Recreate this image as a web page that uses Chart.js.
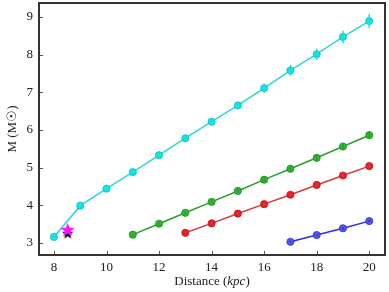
<!DOCTYPE html>
<html>
<head>
<meta charset="utf-8">
<script src="https://cdn.jsdelivr.net/npm/chart.js@4"></script>
<style>
  html, body { margin: 0; padding: 0; background: #fff; }
  #wrap { width: 389px; height: 292px; }
</style>
</head>
<body>
<div id="wrap"><canvas id="massChart"></canvas></div>
<script>
// data
const xTicks = [8, 10, 12, 14, 16, 18, 20];
const yTicks = [3, 4, 5, 6, 7, 8, 9];

const cyanDist = [8, 9, 10, 11, 12, 13, 14, 15, 16, 17, 18, 19, 20];
const cyanMass = [3.16, 3.99, 4.44, 4.88, 5.33, 5.78, 6.22, 6.65, 7.11, 7.58, 8.01, 8.47, 8.89];
const cyanErr  = [0.02, 0.03, 0.04, 0.05, 0.06, 0.07, 0.09, 0.10, 0.12, 0.14, 0.15, 0.16, 0.19];

const greenDist = [11, 12, 13, 14, 15, 16, 17, 18, 19, 20];
const greenMass = [3.22, 3.51, 3.80, 4.09, 4.38, 4.68, 4.97, 5.26, 5.56, 5.86];
const greenErr  = [0.02, 0.03, 0.03, 0.04, 0.05, 0.06, 0.07, 0.08, 0.09, 0.10];

const redDist = [13, 14, 15, 16, 17, 18, 19, 20];
const redMass = [3.27, 3.52, 3.78, 4.03, 4.28, 4.54, 4.79, 5.04];
const redErr  = [0.02, 0.02, 0.03, 0.03, 0.04, 0.05, 0.06, 0.07];

const blueDist = [17, 18, 19, 20];
const blueMass = [3.03, 3.21, 3.39, 3.58];
const blueErr  = [0.02, 0.02, 0.03, 0.03];

const starMagenta = [{ x: 8.52, y: 3.36 }];
const starBlack = [{ x: 8.52, y: 3.26 }];

const serif = "'Liberation Serif', 'DejaVu Serif', serif";

// filled five point star used as a point style
function makeStar(size, color) {
  const c = document.createElement('canvas');
  c.width = size; c.height = size;
  const g = c.getContext('2d');
  const cx = size / 2, cy = size / 2 + size * 0.05;
  const ro = size / 2, ri = ro * 0.42;
  g.beginPath();
  for (let i = 0; i < 10; i++) {
    const r = i % 2 === 0 ? ro : ri;
    const a = -Math.PI / 2 + i * Math.PI / 5;
    g.lineTo(cx + r * Math.cos(a), cy + r * Math.sin(a));
  }
  g.closePath();
  g.fillStyle = color;
  g.fill();
  return c;
}

function pairs(xs, ys) {
  return xs.map((x, i) => ({ x: x, y: ys[i] }));
}

function series(xs, ys, errs, line, fill, edge) {
  return {
    data: pairs(xs, ys),
    errors: errs,
    borderColor: line,
    borderWidth: 1.5,
    backgroundColor: fill,
    pointBackgroundColor: fill,
    pointBorderColor: edge,
    pointBorderWidth: 0.8,
    pointRadius: 3.6,
    showLine: true,
    tension: 0
  };
}

// vertical error bars, drawn through the scales
const errorBars = {
  id: 'errorBars',
  afterDatasetsDraw(chart) {
    const ctx = chart.ctx;
    const xs = chart.scales.x, ys = chart.scales.y;
    chart.data.datasets.forEach(ds => {
      if (!ds.errors) return;
      ctx.save();
      ctx.strokeStyle = ds.borderColor;
      ctx.lineWidth = 1.5;
      ds.data.forEach((p, i) => {
        const px = xs.getPixelForValue(p.x);
        ctx.beginPath();
        ctx.moveTo(px, ys.getPixelForValue(p.y - ds.errors[i]));
        ctx.lineTo(px, ys.getPixelForValue(p.y + ds.errors[i]));
        ctx.stroke();
      });
      ctx.restore();
    });
  }
};

// frame, inward ticks and the x title with italic unit
const frame = {
  id: 'frame',
  afterDraw(chart) {
    const ctx = chart.ctx;
    const a = chart.chartArea;
    const xs = chart.scales.x, ys = chart.scales.y;
    ctx.save();
    ctx.strokeStyle = '#555';
    ctx.lineWidth = 1;
    xTicks.forEach(v => {
      const px = Math.round(xs.getPixelForValue(v)) + 0.5;
      ctx.beginPath();
      ctx.moveTo(px, a.bottom);
      ctx.lineTo(px, a.bottom - 4);
      ctx.stroke();
    });
    yTicks.forEach(v => {
      const py = Math.round(ys.getPixelForValue(v)) + 0.5;
      ctx.beginPath();
      ctx.moveTo(a.left, py);
      ctx.lineTo(a.left + 4, py);
      ctx.stroke();
    });
    ctx.strokeStyle = '#333';
    ctx.lineWidth = 2;
    ctx.strokeRect(a.left, a.top, a.right - a.left, a.bottom - a.top);

    const parts = [
      ['Distance (', '13px ' + serif],
      ['kpc', 'italic 13px ' + serif],
      [')', '13px ' + serif]
    ];
    let total = 0;
    parts.forEach(p => { ctx.font = p[1]; total += ctx.measureText(p[0]).width; });
    let x = (a.left + a.right) / 2 - total / 2;
    ctx.fillStyle = '#222';
    ctx.textBaseline = 'middle';
    parts.forEach(p => {
      ctx.font = p[1];
      ctx.fillText(p[0], x, 282);
      x += ctx.measureText(p[0]).width;
    });
    ctx.restore();
  }
};

new Chart(document.getElementById('massChart'), {
  type: 'scatter',
  data: {
    datasets: [
      {
        data: starMagenta,
        pointStyle: makeStar(15, '#ff14ff'),
        pointRadius: 7
      },
      {
        data: starBlack,
        pointStyle: makeStar(12, '#000'),
        pointRadius: 6
      },
      series(cyanDist, cyanMass, cyanErr, '#2ed6d6', '#0ae8e8', '#12bcbc'),
      series(greenDist, greenMass, greenErr, '#2a9e2a', '#2fb82f', '#1f8a1f'),
      series(redDist, redMass, redErr, '#d63a3e', '#ee1c24', '#b81a1e'),
      series(blueDist, blueMass, blueErr, '#2b2bf0', '#5555ee', '#3333bb')
    ]
  },
  options: {
    responsive: true,
    maintainAspectRatio: false,
    animation: false,
    layout: { autoPadding: false, padding: { top: 3, right: 4, left: 0, bottom: 0 } },
    plugins: { legend: { display: false }, tooltip: { enabled: false } },
    scales: {
      x: {
        type: 'linear',
        min: 7.43,
        max: 20.6,
        afterBuildTicks: s => { s.ticks = xTicks.map(v => ({ value: v })); },
        afterFit: s => { s.height = 37; s.paddingLeft = 0; s.paddingRight = 0; },
        grid: { display: false, drawTicks: false },
        border: { display: false },
        ticks: { color: '#222', font: { family: serif, size: 13 }, padding: 5, maxRotation: 0 }
      },
      y: {
        type: 'linear',
        min: 2.68,
        max: 9.37,
        afterBuildTicks: s => { s.ticks = yTicks.map(v => ({ value: v })); },
        afterFit: s => { s.width = 39; s.paddingTop = 0; s.paddingBottom = 0; },
        grid: { display: false, drawTicks: false },
        border: { display: false },
        ticks: { color: '#222', font: { family: serif, size: 13 }, padding: 6 },
        title: {
          display: true,
          text: 'M (M\u2609)',
          color: '#222',
          font: { family: serif, size: 13 },
          padding: { top: 5, bottom: 0 }
        }
      }
    }
  },
  plugins: [errorBars, frame]
});
</script>
</body>
</html>
